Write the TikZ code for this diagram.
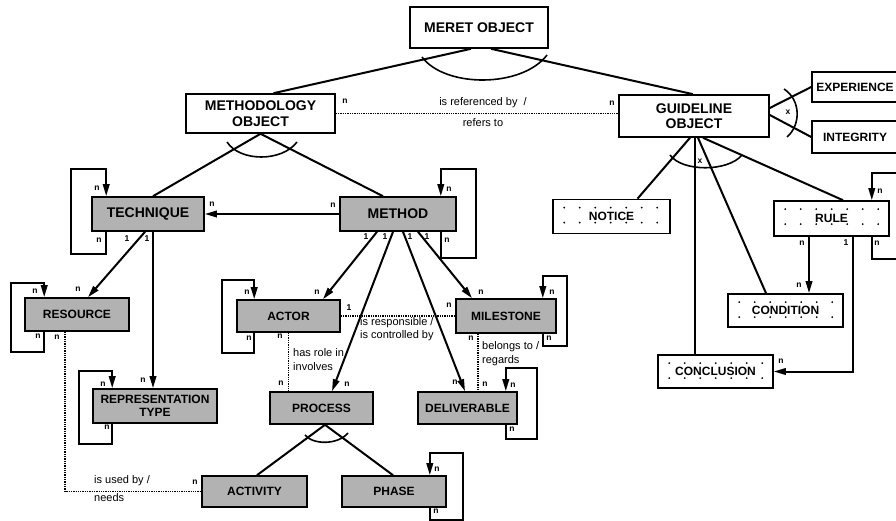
\documentclass[tikz,border=0pt]{standalone}
\usepackage{fontspec}
\setmainfont{Liberation Sans}
\usetikzlibrary{arrows.meta,calc}
\begin{document}
\begin{tikzpicture}[x=1pt,y=-1pt,
  box/.style={draw,line width=1.6pt,inner sep=0pt,align=center,
    font=\bfseries\fontsize{12}{13}\selectfont},
  bigtext/.style={font=\bfseries\fontsize{14}{15.5}\selectfont},
  plainbox/.style={box,fill=white},
  shadebox/.style={box,fill=black!30},
  dotbox/.style={box,fill=white},
  conn/.style={line width=2pt},
  arr/.style={conn,-{Triangle[length=12pt,width=6.5pt]}},
  rel/.style={line width=1.3pt,densely dotted},
  arcline/.style={line width=1.6pt},
  card/.style={font=\bfseries\fontsize{8.5}{9}\selectfont,inner sep=0pt},
  reltext/.style={font=\fontsize{11}{12}\selectfont,inner sep=0pt,anchor=west}
]
\clip (0,0) rectangle (896,521);

% ---------- object boxes ----------
\node[plainbox,bigtext,minimum width=138pt,minimum height=41pt] (meret) at (479,27.5) {MERET OBJECT};
\node[plainbox,bigtext,minimum width=149pt,minimum height=39pt] (methodology) at (260.5,113.5) {METHODOLOGY\\OBJECT};
\node[plainbox,bigtext,minimum width=150pt,minimum height=42pt] (guideline) at (694,116) {GUIDELINE\\OBJECT};
\node[plainbox,minimum width=86pt,minimum height=30pt] (experience) at (855,87) {EXPERIENCE};
\node[plainbox,minimum width=86pt,minimum height=32pt] (integrity) at (855,137) {INTEGRITY};

\node[shadebox,bigtext,minimum width=112pt,minimum height=34pt] (technique) at (148,214) {TECHNIQUE};
\node[shadebox,bigtext,minimum width=116pt,minimum height=34pt] (method) at (398,214) {METHOD};
\node[shadebox,minimum width=104pt,minimum height=33pt] (resource) at (77,314.5) {RESOURCE};
\node[shadebox,minimum width=124pt,minimum height=34pt] (reptype) at (155,406) {REPRESENTATION\\TYPE};
\node[shadebox,minimum width=103pt,minimum height=32pt] (actor) at (288.5,316) {ACTOR};
\node[shadebox,minimum width=100pt,minimum height=34pt] (milestone) at (506,316) {MILESTONE};
\node[shadebox,minimum width=103pt,minimum height=32pt] (process) at (321.5,408) {PROCESS};
\node[shadebox,minimum width=99pt,minimum height=32pt] (deliverable) at (467.5,408) {DELIVERABLE};
\node[shadebox,minimum width=105pt,minimum height=31pt] (activity) at (254.5,491.5) {ACTIVITY};
\node[shadebox,minimum width=104pt,minimum height=31pt] (phase) at (394,491.5) {PHASE};

\node[dotbox,minimum width=117pt,minimum height=34pt] (notice) at (611.5,216.5) {NOTICE};
\node[dotbox,minimum width=115pt,minimum height=35pt] (rule) at (831.5,218.5) {RULE};
\node[dotbox,minimum width=115pt,minimum height=33pt] (condition) at (785.5,310.5) {CONDITION};
\node[dotbox,minimum width=115pt,minimum height=33pt] (conclusion) at (715.5,371.5) {CONCLUSION};

% dot screen of the guideline part boxes
\foreach \b in {notice,rule,condition,conclusion}{
  \foreach \i in {0,...,6}{
    \fill ($(\b.north west)+(12+15.5*\i,9)$) circle (1pt);
    \fill ($(\b.north west)+(12+15.5*\i,24)$) circle (1pt);
  }
}

% ---------- specialisation links ----------
\draw[conn] ([xshift=-8pt]meret.south) -- ([xshift=13pt]methodology.north);
\draw[conn] ([xshift=12pt]meret.south) -- ([xshift=-1pt]guideline.north);
\draw[arcline] (422,57) .. controls (445,88) and (522,88) .. (547,55);

\draw[conn] (methodology.south) -- ([xshift=5pt]technique.north);
\draw[conn] (methodology.south) -- ([xshift=-15pt]method.north);
\draw[arcline] (227,142) .. controls (240,162) and (282,162) .. (297,142);

\draw[conn] ([xshift=3.5pt]process.south) -- ([xshift=2.5pt]activity.north);
\draw[conn] ([xshift=3.5pt]process.south) -- ([xshift=-1pt]phase.north);
\draw[arcline] (305,435) .. controls (313,445) and (338,445) .. (348,433);

\draw[conn] ([yshift=8pt]guideline.east) -- (experience.west);
\draw[conn] ([yshift=1pt]guideline.east) -- (integrity.west);
\draw[arcline] (784,89) .. controls (801,100) and (801,125) .. (787,137);
\node[card] (gx1) at (788,112) {x};

\draw[conn] ([xshift=-4pt]guideline.south) -- ([xshift=26pt]notice.north);
\draw[conn] ([xshift=1pt]guideline.south) -- ([xshift=-20.5pt]conclusion.north);
\draw[conn] ([xshift=4pt]guideline.south) -- ([xshift=-19.5pt]condition.north);
\draw[conn] ([xshift=9pt]guideline.south) -- ([xshift=11.5pt]rule.north);
\draw[arcline] (670,155) .. controls (682,172) and (728,172) .. (742,155);
\node[card] (gx2) at (700,161) {x};

% ---------- directed relations ----------
\draw[arr] (method.west) -- (technique.east);
\draw[arr] ([xshift=-3pt]technique.south) -- ([xshift=11pt]resource.north);
\draw[arr] ([xshift=5pt]technique.south) -- ([xshift=-2pt]reptype.north);
\draw[arr] ([xshift=-21pt]method.south) -- ([xshift=34.5pt]actor.north);
\draw[arr] ([xshift=-5pt]method.south) -- ([xshift=10.5pt]process.north);
\draw[arr] ([xshift=5pt]method.south) -- ([xshift=-2.5pt]deliverable.north);
\draw[arr] ([xshift=20pt]method.south) -- ([xshift=-34pt]milestone.north);
\draw[arr] ([xshift=-22.5pt]rule.south) -- ([xshift=23.5pt]condition.north);
\draw[arr] ([xshift=21.5pt]rule.south) |- (conclusion.east);

% ---------- recursive relations ----------
\draw[arr] ([xshift=15pt]technique.south west) -- ++(0,22) -- ++(-35,0) -- ++(0,-85) -- ++(35,0) -- ([xshift=15pt]technique.north west);
\draw[arr] ([xshift=20pt]resource.south west) -- ++(0,20) -- ++(-33,0) -- ++(0,-69) -- ++(33,0) -- ([xshift=20pt]resource.north west);
\draw[arr] ([xshift=20pt]reptype.south west) -- ++(0,20) -- ++(-33,0) -- ++(0,-73) -- ++(33,0) -- ([xshift=20pt]reptype.north west);
\draw[arr] ([xshift=18pt]actor.south west) -- ++(0,20) -- ++(-32,0) -- ++(0,-73) -- ++(32,0) -- ([xshift=18pt]actor.north west);
\draw[arr] ([xshift=-16pt]method.south east) -- ++(0,26) -- ++(35,0) -- ++(0,-89) -- ++(-35,0) -- ([xshift=-16pt]method.north east);
\draw[arr] ([xshift=-14pt]milestone.south east) -- ++(0,12) -- ++(24,0) -- ++(0,-70) -- ++(-24,0) -- ([xshift=-14pt]milestone.north east);
\draw[arr] ([xshift=-12pt]deliverable.south east) -- ++(0,14) -- ++(31,0) -- ++(0,-71) -- ++(-31,0) -- ([xshift=-12pt]deliverable.north east);
\draw[arr] ([xshift=-17pt]phase.south east) -- ++(0,12) -- ++(33,0) -- ++(0,-67) -- ++(-33,0) -- ([xshift=-17pt]phase.north east);
\draw[arr] ([xshift=-18pt]rule.south east) -- ++(0,22) -- ++(40,0) -- ++(0,-86) -- ++(-40,0) -- ([xshift=-18pt]rule.north east);

% ---------- associations ----------
\draw[rel] (methodology.east) -- (methodology.east -| guideline.west);
\draw[rel] (actor.east) -- (milestone.west);
\draw[rel] (actor.south) -- (actor.south |- process.north);
\draw[rel] ([xshift=-28pt]milestone.south) -- ([xshift=-28pt]milestone.south |- deliverable.north);
\draw[rel] ([xshift=-12pt]resource.south) |- (activity.west);

% ---------- relation texts ----------
\node[reltext,anchor=center] (t1) at (483,103) {is referenced by \ /};
\node[reltext,anchor=center] (t2) at (483,123) {refers to};
\node[reltext] (t3) at (360,323) {is responsible /};
\node[reltext] (t4) at (360,336) {is controlled by};
\node[reltext] (t5) at (293,353) {has role in};
\node[reltext] (t6) at (293,367) {involves};
\node[reltext] (t7) at (482,347) {belongs to /};
\node[reltext] (t8) at (482,361) {regards};
\node[reltext] (t9) at (94,481) {is used by /};
\node[reltext] (t10) at (94,498) {needs};

% ---------- cardinalities ----------
\node[card] (c1) at (97,188) {n};
\node[card] (c2) at (99,240) {n};
\node[card] (c3) at (212,204) {n};
\node[card] (c4) at (333,205) {n};
\node[card] (c5) at (127,239) {1};
\node[card] (c6) at (78,289) {n};
\node[card] (c7) at (147,239) {1};
\node[card] (c8) at (143,380) {n};
\node[card] (c9) at (35,291) {n};
\node[card] (c10) at (38,336) {n};
\node[card] (c11) at (57,337) {n};
\node[card] (c12) at (195,482) {n};
\node[card] (c13) at (103,384) {n};
\node[card] (c14) at (107,427) {n};
\node[card] (c15) at (449,189) {n};
\node[card] (c16) at (447,240) {n};
\node[card] (c17) at (366,237) {1};
\node[card] (c18) at (317,292) {n};
\node[card] (c19) at (385,237) {1};
\node[card] (c20) at (347,384) {n};
\node[card] (c21) at (410,237) {1};
\node[card] (c22) at (455,382) {n};
\node[card] (c23) at (427,237) {1};
\node[card] (c24) at (481,292) {n};
\node[card] (c25) at (247,292) {n};
\node[card] (c26) at (249,338) {n};
\node[card] (c27) at (349,308) {1};
\node[card] (c28) at (449,305) {n};
\node[card] (c29) at (280,336) {n};
\node[card] (c30) at (281,383) {n};
\node[card] (c31) at (471,338) {n};
\node[card] (c32) at (485,384) {n};
\node[card] (c33) at (552,292) {n};
\node[card] (c34) at (549,338) {n};
\node[card] (c35) at (513,385) {n};
\node[card] (c36) at (512,429) {n};
\node[card] (c37) at (437,469) {n};
\node[card] (c38) at (436,511) {n};
\node[card] (c39) at (345,101) {n};
\node[card] (c40) at (612,103) {n};
\node[card] (c41) at (880,191) {n};
\node[card] (c42) at (877,243) {n};
\node[card] (c43) at (802,243) {n};
\node[card] (c44) at (799,285) {n};
\node[card] (c45) at (846,243) {1};
\node[card] (c46) at (781,361) {n};
\end{tikzpicture}
\end{document}
